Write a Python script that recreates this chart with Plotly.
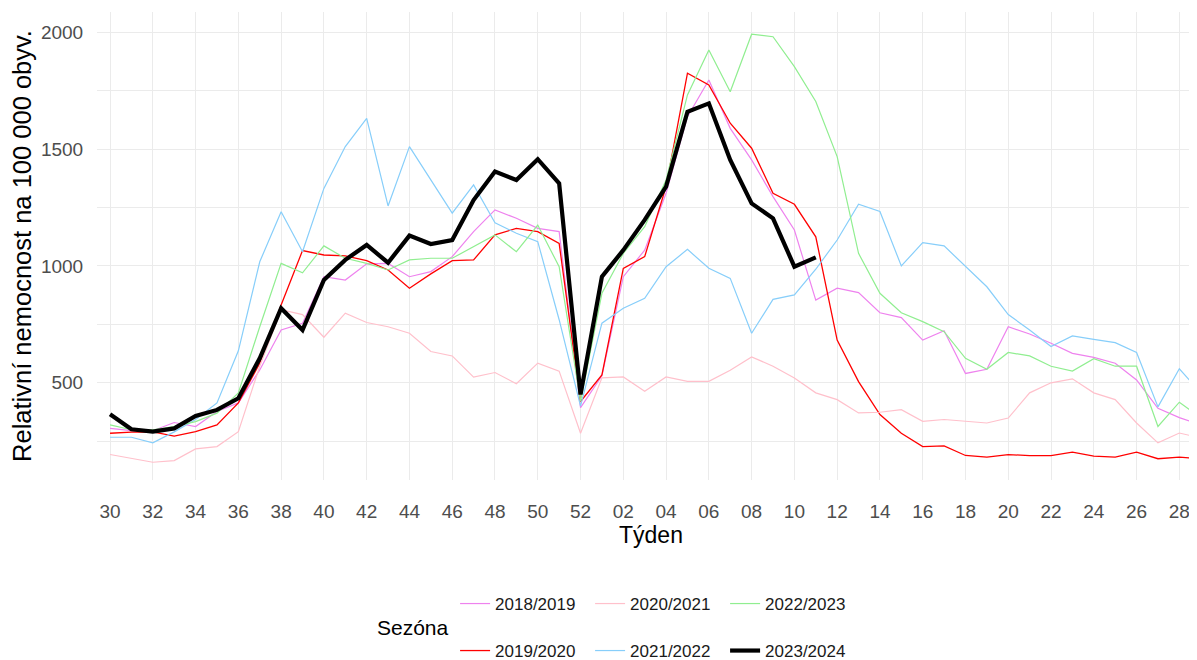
import plotly.graph_objects as go

week_labels = [f"{w:02d}" for w in list(range(30, 53)) + list(range(1, 30))]
tick_positions = list(range(0, 52, 2))
tick_text = [week_labels[i] for i in tick_positions]

s2018_2019 = [305, 295, 295, 330, 313, 377, 414, 555, 726, 755, 954, 940, 1009, 1011, 954, 976,
              1040, 1147, 1240, 1204, 1161, 1147, 394, 530, 954, 1068, 1311, 1639, 1796, 1589,
              1454, 1297, 1154, 854, 905, 886, 800, 779, 683, 723, 540, 558, 740, 709, 669, 626,
              609, 584, 512, 391, 351, 320]
s2019_2020 = [284, 289, 290, 272, 291, 320, 414, 584, 833, 1066, 1047, 1043, 1023, 983, 905, 966,
              1023, 1026, 1133, 1161, 1147, 1097, 420, 534, 990, 1040, 1340, 1825, 1775, 1611,
              1504, 1311, 1264, 1125, 683, 505, 364, 284, 227, 230, 189, 182, 193, 188, 188, 203,
              186, 182, 203, 175, 182, 175]
s2020_2021 = [193, 175, 160, 167, 217, 227, 291, 571, 813, 792, 695, 798, 758, 740, 712, 634,
              615, 524, 544, 496, 584, 550, 284, 521, 525, 464, 525, 506, 506, 554, 611, 571,
              521, 457, 428, 371, 374, 385, 335, 343, 335, 328, 349, 457, 500, 517, 457, 428,
              328, 243, 285, 264]
s2021_2022 = [267, 267, 243, 290, 343, 414, 637, 1018, 1232, 1061, 1332, 1511, 1632, 1257, 1511,
              1368, 1226, 1347, 1185, 1140, 1104, 770, 400, 755, 819, 862, 997, 1071, 990, 947,
              712, 857, 876, 986, 1111, 1264, 1233, 1000, 1100, 1086, 1000, 911, 792, 726, 655,
              701, 686, 672, 630, 397, 560, 457]
s2022_2023 = [320, 299, 299, 313, 334, 370, 457, 740, 1011, 971, 1086, 1033, 1011, 983, 1026,
              1033, 1033, 1083, 1133, 1061, 1175, 997, 420, 883, 1054, 1168, 1368, 1732, 1924,
              1746, 1992, 1981, 1853, 1704, 1468, 1054, 883, 800, 762, 719, 605, 558, 630, 615,
              571, 550, 603, 571, 571, 313, 417, 349]
s2023_2024 = [365, 301, 291, 305, 358, 384, 434, 605, 819, 726, 940, 1026, 1090, 1014, 1130,
              1094, 1111, 1282, 1404, 1368, 1457, 1354, 450, 954, 1068, 1197, 1340, 1660, 1696,
              1454, 1268, 1204, 997, 1037]

series = [
    ("2018/2019", s2018_2019, "#EE82EE", 1.2, "legend"),
    ("2019/2020", s2019_2020, "#FF0000", 1.3, "legend2"),
    ("2020/2021", s2020_2021, "#FFC0CB", 1.2, "legend"),
    ("2021/2022", s2021_2022, "#87CEFA", 1.2, "legend2"),
    ("2022/2023", s2022_2023, "#90EE90", 1.2, "legend"),
    ("2023/2024", s2023_2024, "#000000", 4.2, "legend2"),
]

FONT = "Liberation Sans, Arial, sans-serif"
fig = go.Figure()
for name, vals, color, w, lg in series:
    fig.add_trace(go.Scatter(
        x=list(range(len(vals))), y=vals, mode="lines", name=name,
        line=dict(color=color, width=w), legend=lg, hoverinfo="skip",
    ))

legend_common = dict(
    orientation="h", xref="container", yref="container", x=0.3735, xanchor="left",
    yanchor="middle", font=dict(family=FONT, size=17, color="#1a1a1a"),
    entrywidth=90, entrywidthmode="pixels", bgcolor="rgba(0,0,0,0)", itemwidth=30,
)

fig.update_layout(
    width=1197, height=660,
    margin=dict(l=89, r=0, t=4, b=188, autoexpand=False),
    paper_bgcolor="white", plot_bgcolor="white",
    font=dict(family=FONT),
    showlegend=True,
    legend=dict(**legend_common, y=1 - 596 / 660),
    legend2=dict(**legend_common, y=1 - 643 / 660),
    annotations=[dict(
        text="Sezóna", xref="paper", yref="paper", x=(403 - 89) / 1100, y=(472 - 619) / 468,
        showarrow=False, xanchor="center", yanchor="middle",
        font=dict(family=FONT, size=21, color="#000000"),
    )],
)

fig.update_xaxes(
    range=[-0.61, 51.2], tickmode="array", tickvals=tick_positions, ticktext=tick_text,
    showgrid=True, gridcolor="#EBEBEB", gridwidth=1, zeroline=False, showline=False,
    ticks="outside", ticklen=14, tickcolor="rgba(0,0,0,0)", automargin=False,
    tickfont=dict(family=FONT, size=19, color="#4D4D4D"),
    title=dict(text="Týden", font=dict(family=FONT, size=23, color="#000000"), standoff=3),
)
fig.update_yaxes(
    range=[84, 2087], tickmode="array", tickvals=[500, 1000, 1500, 2000],
    showgrid=True, gridcolor="#EBEBEB", gridwidth=1, zeroline=False, showline=False,
    minor=dict(tickvals=[250, 750, 1250, 1750], showgrid=True, gridcolor="#EBEBEB", gridwidth=1),
    ticks="outside", ticklen=9, tickcolor="rgba(0,0,0,0)", automargin=False,
    tickfont=dict(family=FONT, size=19, color="#4D4D4D"),
    title=dict(text="Relativní nemocnost na 100 000 obyv.", font=dict(family=FONT, size=25.5, color="#000000"), standoff=4),
)

fig.write_html("out.html")
